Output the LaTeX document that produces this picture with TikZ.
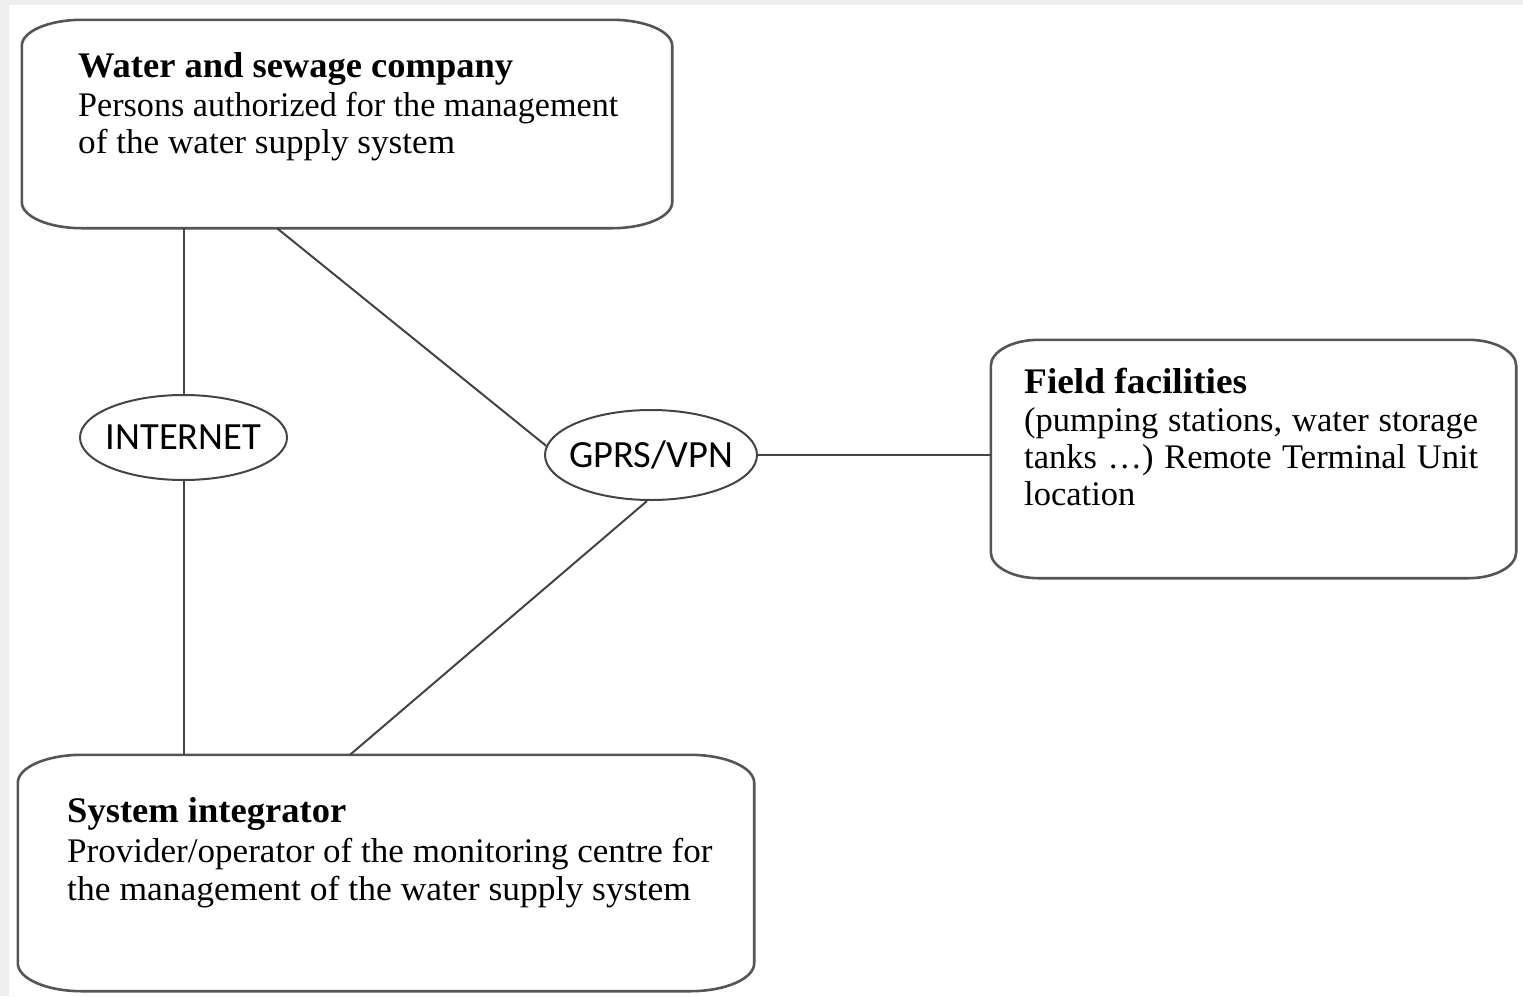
\documentclass[tikz,border=0pt]{standalone}
\usepackage{fontspec}
\usepackage{graphicx}
\setmainfont{Liberation Serif}
\newfontfamily\carlitofont{Carlito}
\usetikzlibrary{shapes.geometric,calc}
\definecolor{bggray}{HTML}{EEEEEE}
\definecolor{linegray}{HTML}{444444}
\definecolor{boxgray}{HTML}{555555}
\newcommand\drawebox[3]{%
  \draw[boxline]
    ([xshift=#2pt]#1.north west) -- ([xshift=-#2pt]#1.north east)
    arc[start angle=90,end angle=0,x radius=#2pt,y radius=#3pt]
    -- ([yshift=#3pt]#1.south east)
    arc[start angle=0,end angle=-90,x radius=#2pt,y radius=#3pt]
    -- ([xshift=#2pt]#1.south west)
    arc[start angle=270,end angle=180,x radius=#2pt,y radius=#3pt]
    -- ([yshift=-#3pt]#1.north west)
    arc[start angle=180,end angle=90,x radius=#2pt,y radius=#3pt]
    -- cycle;}
\newcommand\hsc[2]{\scalebox{#1}[1]{#2}}
\tikzset{
  boxshape/.style={rectangle,draw=none,inner sep=0pt},
  boxline/.style={draw=boxgray,line width=2.6pt,line join=round},
  cloud/.style={ellipse,draw=linegray,line width=2pt,inner sep=0pt},
  cloudtxt/.style={inner sep=0pt,font=\carlitofont\fontsize{38.5}{40}\selectfont},
  conn/.style={draw=linegray,line width=2pt},
  titletxt/.style={anchor=base west,inner sep=0pt,font=\bfseries\fontsize{36}{38}\selectfont},
  bodytxt/.style={anchor=base west,inner sep=0pt,font=\fontsize{34.5}{38}\selectfont},
}
\begin{document}
\begin{tikzpicture}[x=1pt,y=-1pt]
\useasboundingbox (0,0) rectangle (1523,996);
\fill[bggray] (0,0) rectangle (1523,996);
\fill[white] (9,5) rectangle (1523,996);

% boxes
\node[boxshape,minimum width=650pt,minimum height=208pt] (wsc) at (347,124) {};
\node[boxshape,minimum width=525pt,minimum height=238pt] (field) at (1253.5,459) {};
\node[boxshape,minimum width=736pt,minimum height=236pt] (sys) at (386,873) {};
\drawebox{wsc}{60}{26}
\drawebox{field}{48}{26}
\drawebox{sys}{64}{28}

% texts
\node[titletxt] (wsc-t) at (78,77) {\hsc{1.014}{Water and sewage company}};
\node[bodytxt] (wsc-1) at (78,116) {\hsc{0.989}{Persons authorized for the management}};
\node[bodytxt] (wsc-2) at (78,153) {\hsc{1.019}{of the water supply system}};

\node[titletxt] (field-t) at (1024,393) {\hsc{1.037}{Field facilities}};
\node[bodytxt] (field-1) at (1024,431) {\makebox[454pt][s]{(pumping stations, water storage}};
\node[bodytxt] (field-2) at (1024,468) {\makebox[454pt][s]{tanks \dots) Remote Terminal Unit}};
\node[bodytxt] (field-3) at (1024,505) {location};

\node[titletxt] (sys-t) at (67,822) {\hsc{1.015}{System integrator}};
\node[bodytxt] (sys-1) at (67,862) {\hsc{1.016}{Provider/operator of the monitoring centre for}};
\node[bodytxt] (sys-2) at (67,900) {\hsc{1.03}{the management of the water supply system}};

% networks
\node[cloud,minimum width=207pt,minimum height=85pt] (inet) at (183.5,437.5) {};
\node[cloudtxt] (inet-l) at (inet.center) {INTERNET};
\node[cloud,minimum width=212pt,minimum height=90pt] (gprs) at (651,455) {};
\node[cloudtxt] (gprs-l) at (gprs.center) {GPRS/VPN};

% connectors
\draw[conn] (inet.north |- wsc.south) -- (inet.north);
\draw[conn] (inet.south) -- (inet.south |- sys.north);
\draw[conn] ([xshift=-70pt]wsc.south) -- (gprs.175);
\draw[conn] ([xshift=-4pt]gprs.south) -- ([xshift=-36pt]sys.north);
\draw[conn] (gprs.east) -- (gprs.east -| field.west);
\end{tikzpicture}
\end{document}
